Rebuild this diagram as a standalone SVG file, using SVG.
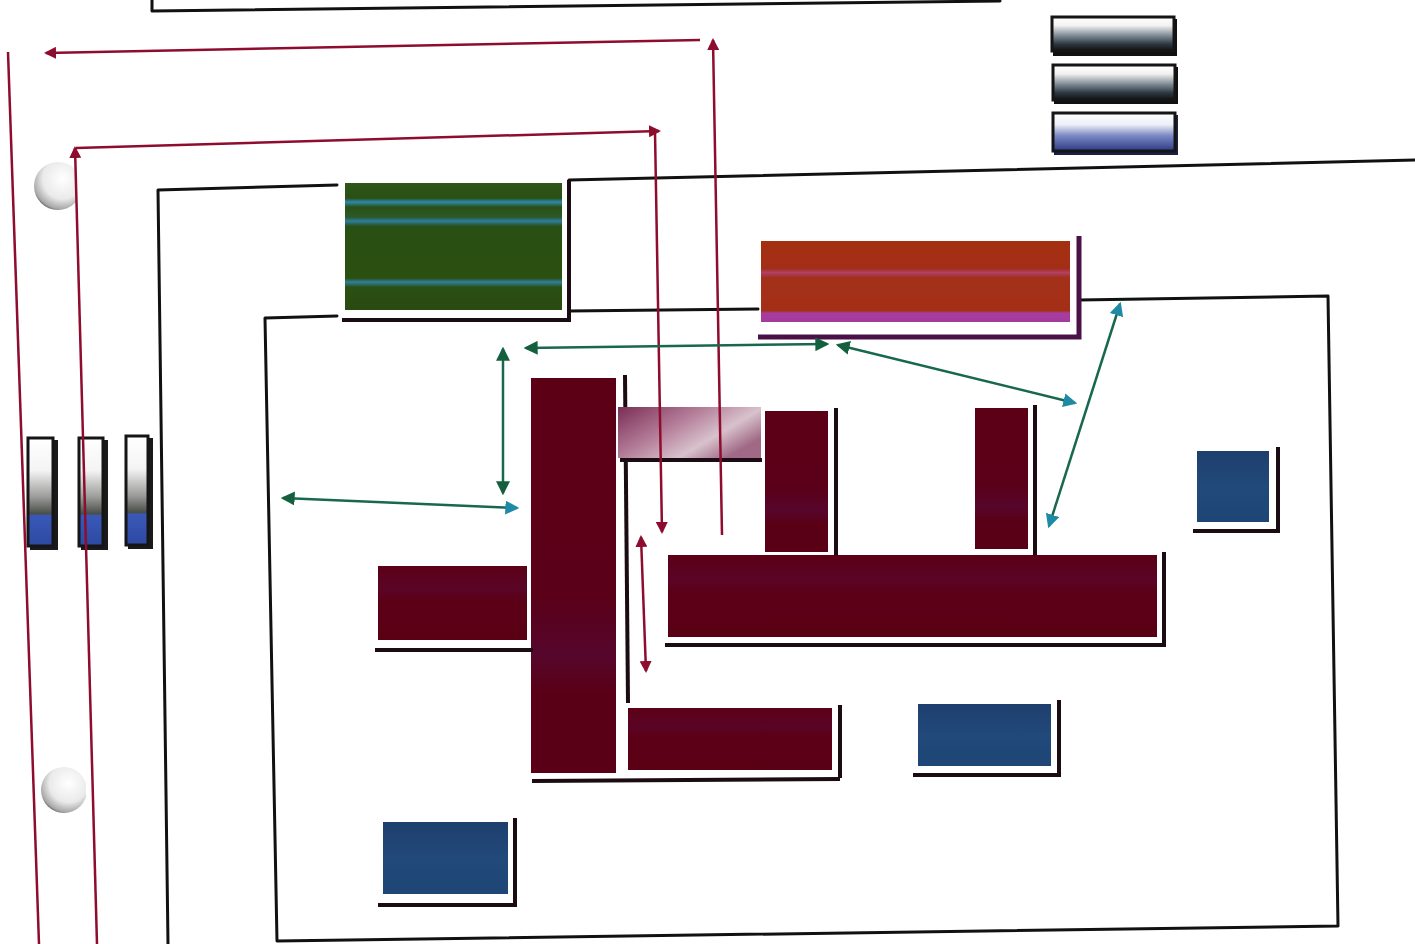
<svg xmlns="http://www.w3.org/2000/svg" width="1415" height="944" viewBox="0 0 1415 944">
<defs>
<style>
.wall{fill:none;stroke:#111;stroke-width:3;stroke-linecap:round;stroke-linejoin:round}
.shd{fill:none;stroke:#1b0b12;stroke-width:4;stroke-linecap:butt}
.shdp{fill:none;stroke:#4a1048;stroke-width:5}
.maroon{fill:url(#gMaroon)}
.maroonv{fill:url(#gMaroonV)}
.blue{fill:url(#gBlue)}
.red{fill:none;stroke:#8e0c2e;stroke-width:2.5}
.tea{fill:none;stroke:#17684e;stroke-width:2.5}
.bar{stroke:#151515;stroke-width:3}
</style>
<linearGradient id="gMaroon" x1="0" y1="0" x2="0" y2="1">
<stop offset="0" stop-color="#5c0016"/><stop offset="0.3" stop-color="#5a0426"/><stop offset="0.45" stop-color="#5c0018"/><stop offset="1" stop-color="#5a0014"/>
</linearGradient>
<linearGradient id="gMaroonV" x1="0" y1="0" x2="0" y2="1">
<stop offset="0" stop-color="#5c0016"/><stop offset="0.55" stop-color="#5a0018"/><stop offset="0.7" stop-color="#56062c"/><stop offset="0.8" stop-color="#5a0016"/><stop offset="1" stop-color="#5a0016"/>
</linearGradient>
<linearGradient id="gBlue" x1="0" y1="0" x2="0" y2="1">
<stop offset="0" stop-color="#1e3f6e"/><stop offset="0.5" stop-color="#21497a"/><stop offset="1" stop-color="#1d4676"/>
</linearGradient>
<linearGradient id="gGreen" x1="0" y1="0" x2="0" y2="1">
<stop offset="0" stop-color="#2f5518"/><stop offset="0.12" stop-color="#2a4f14"/><stop offset="0.15" stop-color="#2a8ab0"/><stop offset="0.19" stop-color="#2a4f14"/><stop offset="0.27" stop-color="#2b5a2a"/><stop offset="0.3" stop-color="#2d7fa0"/><stop offset="0.34" stop-color="#2a4f14"/><stop offset="0.75" stop-color="#2a4f10"/><stop offset="0.78" stop-color="#2f7fa0"/><stop offset="0.82" stop-color="#2a4f14"/><stop offset="1" stop-color="#2a4a10"/>
</linearGradient>
<linearGradient id="gOrange" x1="0" y1="0" x2="0" y2="1">
<stop offset="0" stop-color="#a4300f"/><stop offset="0.34" stop-color="#a32e18"/><stop offset="0.39" stop-color="#b0406a"/><stop offset="0.45" stop-color="#a3301a"/><stop offset="0.86" stop-color="#a33015"/><stop offset="0.89" stop-color="#a83ca0"/><stop offset="1" stop-color="#a23c9c"/>
</linearGradient>
<linearGradient id="gPink" x1="0" y1="0" x2="1" y2="0.6">
<stop offset="0" stop-color="#7a2e55"/><stop offset="0.45" stop-color="#b57f9a"/><stop offset="0.75" stop-color="#d8c2cc"/><stop offset="1" stop-color="#a06a86"/>
</linearGradient>
<linearGradient id="gVbar" x1="0" y1="0" x2="0" y2="1">
<stop offset="0" stop-color="#fff"/><stop offset="0.3" stop-color="#f4f4f4"/><stop offset="0.55" stop-color="#9a9a98"/><stop offset="0.7" stop-color="#4a4e48"/><stop offset="0.72" stop-color="#3a58b8"/><stop offset="1" stop-color="#2c4aa0"/>
</linearGradient>
<linearGradient id="gHbarD" x1="0" y1="0" x2="0" y2="1">
<stop offset="0" stop-color="#fff"/><stop offset="0.25" stop-color="#f2f2f2"/><stop offset="0.55" stop-color="#7d8a94"/><stop offset="0.8" stop-color="#2c3640"/><stop offset="1" stop-color="#111"/>
</linearGradient>
<linearGradient id="gHbarB" x1="0" y1="0" x2="0" y2="1">
<stop offset="0" stop-color="#fff"/><stop offset="0.3" stop-color="#eef0f8"/><stop offset="0.6" stop-color="#7a88c4"/><stop offset="1" stop-color="#2c3a86"/>
</linearGradient>
<radialGradient id="gBall" cx="0.6" cy="0.35" r="0.7">
<stop offset="0" stop-color="#ffffff"/><stop offset="0.6" stop-color="#eaeaea"/><stop offset="0.9" stop-color="#a8a8a8"/><stop offset="1" stop-color="#555"/>
</radialGradient>
<clipPath id="cBall1"><rect x="0" y="150" width="77" height="80"/></clipPath>
<clipPath id="cBall2"><rect x="0" y="755" width="86" height="80"/></clipPath>
<marker id="mRed" viewBox="0 0 12 12" refX="10" refY="6" markerWidth="12" markerHeight="12" markerUnits="userSpaceOnUse" orient="auto-start-reverse">
<path d="M0,0 L12,6 L0,12 z" fill="#8e0c2e"/>
</marker>
<marker id="mGreen" viewBox="0 0 12 12" refX="10" refY="6" markerWidth="14" markerHeight="14" markerUnits="userSpaceOnUse" orient="auto-start-reverse">
<path d="M0,0 L12,6 L0,12 z" fill="#14603e"/>
</marker>
<marker id="mTeal" viewBox="0 0 12 12" refX="10" refY="6" markerWidth="14" markerHeight="14" markerUnits="userSpaceOnUse" orient="auto-start-reverse">
<path d="M0,0 L12,6 L0,12 z" fill="#1f8aa6"/>
</marker>
</defs>
<rect width="1415" height="944" fill="#ffffff"/>

<g id="walls">
<path class="wall" d="M152,0 V11 L1000,1"/>
<path class="wall" d="M337,185 L158,190 L168,944"/>
<path class="wall" d="M569,180 L1415,160"/>
<path class="wall" d="M337,316 L265,318 L277,941 L1338,926 L1328,296 L1079,300"/>
<path class="wall" d="M569,311 L758,309"/>
</g>

<g id="ball-top" clip-path="url(#cBall1)"><circle cx="58" cy="186" r="24" fill="url(#gBall)"/></g>
<g id="ball-bottom" clip-path="url(#cBall2)"><circle cx="64" cy="790" r="23" fill="url(#gBall)"/></g>

<g id="vbar-1"><rect x="30" y="440" width="28" height="110" fill="#1a1a1a"/><rect class="bar" x="28" y="438" width="25" height="108" fill="url(#gVbar)"/></g>
<g id="vbar-2"><rect x="81" y="440" width="27" height="110" fill="#1a1a1a"/><rect class="bar" x="79" y="438" width="24" height="108" fill="url(#gVbar)"/></g>
<g id="vbar-3"><rect x="128" y="438" width="25" height="111" fill="#1a1a1a"/><rect class="bar" x="126" y="436" width="22" height="109" fill="url(#gVbar)"/></g>

<g id="hbar-1"><rect x="1053" y="19" width="124" height="37" fill="#111"/><rect class="bar" x="1052" y="17" width="122" height="34" fill="url(#gHbarD)"/></g>
<g id="hbar-2"><rect x="1054" y="67" width="124" height="37" fill="#111"/><rect class="bar" x="1053" y="65" width="122" height="35" fill="url(#gHbarD)"/></g>
<g id="hbar-3"><rect x="1054" y="115" width="124" height="40" fill="#1a2040"/><rect class="bar" x="1053" y="113" width="122" height="38" fill="url(#gHbarB)"/></g>

<g id="green-room">
<rect x="345" y="183" width="217" height="127" fill="url(#gGreen)"/>
<path class="shd" d="M342,320 H569 V180"/>
</g>

<g id="orange-room">
<rect x="761" y="241" width="309" height="81" fill="url(#gOrange)"/>
<path class="shdp" d="M758,337 H1079 V236"/>
</g>

<g id="tall-room">
<rect class="maroonv" x="531" y="378" width="85" height="395"/>
<path class="shd" d="M625,375 L628,703"/>
<path class="shd" d="M532,781 L840,779"/>
</g>

<g id="pink-room">
<rect x="618" y="407" width="143" height="51" fill="url(#gPink)"/>
<path class="shd" d="M620,460 H762"/>
</g>

<g id="mid-room-a">
<rect class="maroonv" x="765" y="411" width="63" height="141"/>
<path class="shd" d="M836,408 V560 H770"/>
</g>

<g id="mid-room-b">
<rect class="maroonv" x="975" y="408" width="53" height="141"/>
<path class="shd" d="M1035,405 V558 H972"/>
</g>

<g id="long-room">
<rect class="maroon" x="668" y="555" width="489" height="82"/>
<path class="shd" d="M665,645 H1164 V552"/>
</g>

<g id="left-room">
<rect class="maroon" x="378" y="566" width="149" height="74"/>
<path class="shd" d="M375,650 H533"/>
</g>

<g id="bottom-room">
<rect class="maroon" x="628" y="708" width="204" height="62"/>
<path class="shd" d="M840,705 V778"/>
</g>

<g id="blue-a">
<rect class="blue" x="1197" y="451" width="72" height="71"/>
<path class="shd" d="M1193,531 H1278 V447"/>
</g>
<g id="blue-b">
<rect class="blue" x="918" y="704" width="133" height="62"/>
<path class="shd" d="M913,775 H1059 V700"/>
</g>
<g id="blue-c">
<rect class="blue" x="383" y="822" width="125" height="72"/>
<path class="shd" d="M378,905 H515 V818"/>
</g>

<g id="connectors">
<path class="red" d="M8,52 L39,944"/>
<path class="red" d="M700,40 L46,53" marker-end="url(#mRed)"/>
<path class="red" d="M722,535 L713,40" marker-end="url(#mRed)"/>
<path class="red" d="M97,944 L75,148" marker-end="url(#mRed)"/>
<path class="red" d="M76,148 L659,131" marker-end="url(#mRed)"/>
<path class="red" d="M655,132 L662,532" marker-end="url(#mRed)"/>
<path class="red" d="M641,537 L646,671" marker-start="url(#mRed)" marker-end="url(#mRed)"/>
<path class="tea" d="M526,348 L827,344" marker-start="url(#mGreen)" marker-end="url(#mGreen)"/>
<path class="tea" d="M838,345 L1075,403" marker-start="url(#mGreen)" marker-end="url(#mTeal)"/>
<path class="tea" d="M503,349 L503,493" marker-start="url(#mGreen)" marker-end="url(#mGreen)"/>
<path class="tea" d="M283,498 L517,508" marker-start="url(#mGreen)" marker-end="url(#mTeal)"/>
<path class="tea" d="M1120,304 L1049,526" marker-start="url(#mTeal)" marker-end="url(#mTeal)"/>
</g>
</svg>
